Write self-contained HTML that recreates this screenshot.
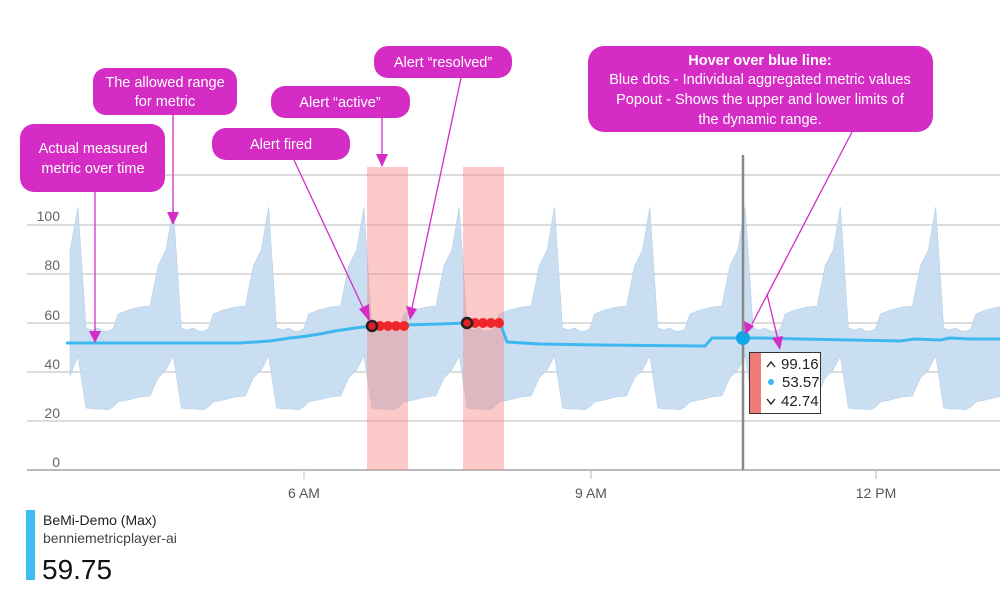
<!DOCTYPE html>
<html><head><meta charset="utf-8"><style>
html,body{margin:0;padding:0;background:#fff;width:1000px;height:598px;overflow:hidden}
svg{display:block}
text{font-family:"Liberation Sans",sans-serif}
</style></head><body>
<svg id="s" width="1000" height="598" viewBox="0 0 1000 598" xmlns="http://www.w3.org/2000/svg">
<g stroke="#c8c8c8" stroke-width="1.3">
<line x1="27" y1="175" x2="1000" y2="175"/>
<line x1="27" y1="225" x2="1000" y2="225"/>
<line x1="27" y1="274" x2="1000" y2="274"/>
<line x1="27" y1="323" x2="1000" y2="323"/>
<line x1="27" y1="372" x2="1000" y2="372"/>
<line x1="27" y1="421" x2="1000" y2="421"/>
<line x1="27" y1="470" x2="1000" y2="470" stroke="#bbb" stroke-width="2"/>
<line x1="304" y1="470" x2="304" y2="479"/>
<line x1="591" y1="470" x2="591" y2="479"/>
<line x1="876" y1="470" x2="876" y2="479"/>
</g>
<g fill="#666" font-size="14" text-anchor="end">
<text x="60" y="221">100</text><text x="60" y="270">80</text><text x="60" y="320">60</text>
<text x="60" y="369">40</text><text x="60" y="418">20</text><text x="60" y="467">0</text>
</g>
<g fill="#555" font-size="14" text-anchor="middle">
<text x="304" y="498">6 AM</text><text x="591" y="498">9 AM</text><text x="876" y="498">12 PM</text>
</g>
<path id="band" fill="#c6dcf0" fill-opacity="0.95" stroke="#b8cfe4" stroke-width="0.6"/>
<rect x="367" y="167" width="41" height="303" fill="#f78a85" opacity="0.45"/>
<rect x="463" y="167" width="41" height="303" fill="#f78a85" opacity="0.45"/>
<path fill="none" stroke="#3fb8f0" stroke-width="3" stroke-linejoin="round" d="M66,343 L240,343 L270,341 L290,338 L300,337 L320,334 L335,331 L355,328 L372,326 L404,325 L440,324 L467,323 L500,323 L507,342 L540,344 L600,345 L705,346 L712,338 L760,338 L800,339 L850,340 L900,341 L915,339 L940,340 L950,338 L970,339 L1000,339"/>
<g fill="#f0262b">
<circle cx="380" cy="326" r="5"/><circle cx="388" cy="326" r="5"/><circle cx="396" cy="326" r="5"/><circle cx="404" cy="326" r="5"/>
<circle cx="475" cy="323" r="5"/><circle cx="483" cy="323" r="5"/><circle cx="491" cy="323" r="5"/><circle cx="499" cy="323" r="5"/>
</g>
<circle cx="372" cy="326" r="5" fill="#e02025" stroke="#222" stroke-width="2.5"/>
<circle cx="467" cy="323" r="5" fill="#e02025" stroke="#222" stroke-width="2.5"/>
<line x1="743" y1="155" x2="743" y2="470" stroke="#888" stroke-width="2.5"/>
<circle cx="743" cy="338" r="7" fill="#12a6e6"/>
<rect x="749.5" y="352.5" width="71" height="61" fill="#fff" stroke="#333" stroke-width="1"/>
<rect x="750" y="353" width="11" height="60" fill="#f07a78"/>
<g font-size="15" fill="#222">
<text x="781" y="369">99.16</text><text x="782" y="387">53.57</text><text x="781" y="406">42.74</text>
</g>
<path d="M767,367 L771,362 L775,367 M767,399 L771,404 L775,399" fill="none" stroke="#222" stroke-width="1.4"/>
<circle cx="771" cy="382" r="3" fill="#3fb8f0"/>
<g fill="#d42cc5">
<rect x="20" y="124" width="145" height="68" rx="14"/>
<rect x="93" y="68" width="144" height="47" rx="13"/>
<rect x="212" y="128" width="138" height="32" rx="14"/>
<rect x="271" y="86" width="139" height="32" rx="14"/>
<rect x="374" y="46" width="138" height="32" rx="14"/>
<rect x="588" y="46" width="345" height="86" rx="16"/>
</g>
<g fill="#fff" font-size="14.5" text-anchor="middle">
<text x="93" y="153">Actual measured</text><text x="93" y="173">metric over time</text>
<text x="165" y="87">The allowed range</text><text x="165" y="106">for metric</text>
<text x="281" y="149">Alert fired</text>
<text x="340" y="107">Alert “active”</text>
<text x="443" y="67">Alert “resolved”</text>
<text x="760" y="65" font-weight="bold">Hover over blue line:</text>
<text x="760" y="84">Blue dots - Individual aggregated metric values</text>
<text x="760" y="104">Popout - Shows the upper and lower limits of</text>
<text x="760" y="124">the dynamic range.</text>
</g>
<g stroke="#d42cc5" stroke-width="1.3" fill="#d42cc5">
<line x1="95" y1="192" x2="95" y2="333"/><polygon points="89,331 101,331 95,343" stroke="none"/>
<line x1="173" y1="115" x2="173" y2="214"/><polygon points="167,212 179,212 173,225" stroke="none"/>
<line x1="382" y1="118" x2="382" y2="156"/><polygon points="376,154 388,154 382,167" stroke="none"/>
<line x1="294" y1="160" x2="365" y2="312"/><polygon points="359,309 369,304 370,322" stroke="none"/>
<line x1="461" y1="78" x2="412" y2="308"/><polygon points="406,306 417,309 410,320" stroke="none"/>
<line x1="852" y1="132" x2="752" y2="324"/><polygon points="744,321 754,326 745,335" stroke="none"/>
<line x1="767" y1="294" x2="778" y2="340"/><polygon points="772,338 783,336 780,350" stroke="none"/>
</g>
<rect x="26" y="510" width="9" height="70" fill="#3fbcf2"/>
<text x="43" y="525" font-size="14" fill="#222">BeMi-Demo (Max)</text>
<text x="43" y="543" font-size="14" fill="#444">benniemetricplayer-ai</text>
<text x="42" y="579" font-size="28" fill="#111">59.75</text>
</svg>
<script>
var up=[[0,207],[8,328],[14,330],[20,328],[25,331],[30,331],[35,329],[40,314],[50,310],[62,307],[72,306],[80,266],[88,250]];
var lo=[[0,356],[8,408],[14,409],[22,409],[30,410],[35,407],[40,402],[50,400],[62,397],[72,396],[80,378],[88,370]];
var P=95.3,p0=78,U=[[70,250]],L=[[70,376]];
for(var k=0;k<11;k++){var p=p0+k*P;
 up.forEach(function(q){U.push([p+q[0],q[1]]);});
 lo.forEach(function(q){L.push([p+q[0],q[1]]);});}
U=U.filter(function(q){return q[0]<=1000});L=L.filter(function(q){return q[0]<=1000});
var d="M"+U.map(function(q){return q[0].toFixed(1)+","+q[1]}).join(" L");
d+=" L1000,"+U[U.length-1][1]+" L1000,"+L[L.length-1][1]+" L"+L.reverse().map(function(q){return q[0].toFixed(1)+","+q[1]}).join(" L")+"Z";
document.getElementById("band").setAttribute("d",d);
</script>
</body></html>
